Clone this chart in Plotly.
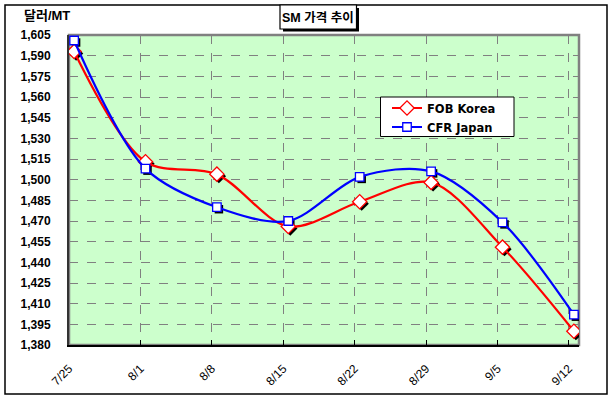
import datetime as _dt
import plotly.graph_objects as go

# ---- data ----
dates = ["2011-07-25", "2011-08-01", "2011-08-08", "2011-08-15",
         "2011-08-22", "2011-08-29", "2011-09-05", "2011-09-12"]
fob_korea = [1593, 1513, 1504, 1466, 1484, 1498, 1451, 1390]
cfr_japan = [1601, 1508, 1480, 1470, 1502, 1506, 1469, 1402]
series_names = ["FOB Korea", "CFR Japan"]
y_ticks = list(range(1380, 1606, 15))

# ---- layout constants ----
W, H = 613, 399
ML, MR, MT, MB = 69, 34, 35, 54
PW, PH = W - ML - MR, H - MT - MB
DAY = 86400000
X_RANGE = ["2011-07-25", "2011-09-13"]
Y_RANGE = [1380, 1605]
SHX = 2 / (PW / 50.0)        # shadow offset in days (~2px)
SHY = 2 / (PH / 225.0)       # shadow offset in value units (~2px)
_x0 = _dt.datetime(2011, 7, 25).timestamp() * 1000
_x1 = _dt.datetime(2011, 9, 13).timestamp() * 1000


def pxx(p):
    return (p - ML) / PW


def pxy(p):
    return 1 - (p - MT) / PH


FONT = "Liberation Sans, Arial, Noto Sans CJK KR, sans-serif"

fig = go.Figure()

# invisible trace to anchor the base axes (grid/ticks)
fig.add_trace(go.Scatter(x=dates, y=fob_korea, mode="markers", xaxis="x", yaxis="y",
                         marker=dict(opacity=0), showlegend=False, hoverinfo="skip"))

common = dict(xperiod=DAY, xperiodalignment="middle", showlegend=False, hoverinfo="skip")

# marker shadows (on shifted axes x2/y2)
fig.add_trace(go.Scatter(x=dates, y=fob_korea, mode="markers", xaxis="x2", yaxis="y2",
                         marker=dict(symbol="diamond", size=11, color="black"), **common))
fig.add_trace(go.Scatter(x=dates, y=cfr_japan, mode="markers", xaxis="x2", yaxis="y2",
                         marker=dict(symbol="square", size=8.5, color="black"), **common))

# main series (on x3/y3, same range as x/y)
fig.add_trace(go.Scatter(x=dates, y=fob_korea, name=series_names[0], mode="lines+markers",
                         xaxis="x3", yaxis="y3", xperiod=DAY, xperiodalignment="middle",
                         line=dict(color="#FF0000", width=2.2, shape="spline", smoothing=0.9),
                         marker=dict(symbol="diamond", size=11, color="white",
                                     line=dict(color="#FF0000", width=1.3))))
fig.add_trace(go.Scatter(x=dates, y=cfr_japan, name=series_names[1], mode="lines+markers",
                         xaxis="x3", yaxis="y3", xperiod=DAY, xperiodalignment="middle",
                         line=dict(color="#0000FF", width=2.2, shape="spline", smoothing=0.9),
                         marker=dict(symbol="square", size=8.5, color="white",
                                     line=dict(color="#0000FF", width=1.3))))

grid = dict(showgrid=True, gridcolor="#808080", griddash="dash", gridwidth=1)

shapes = [
    dict(type="rect", xref="paper", yref="paper", x0=pxx(5), x1=pxx(607),
         y0=pxy(394), y1=pxy(5), line=dict(color="black", width=1.5), layer="below"),
    dict(type="rect", xref="paper", yref="paper", x0=0, x1=1, y0=0, y1=1,
         line=dict(color="#808080", width=2.5), layer="below"),
    # title box shadow + box
    dict(type="rect", xref="paper", yref="paper", x0=pxx(283), x1=pxx(359),
         y0=pxy(31.5), y1=pxy(8), fillcolor="black", line=dict(width=0)),
    dict(type="rect", xref="paper", yref="paper", x0=pxx(280), x1=pxx(356.5),
         y0=pxy(29), y1=pxy(5), fillcolor="white", line=dict(color="black", width=1.2)),
    # legend box
    dict(type="rect", xref="paper", yref="paper", x0=pxx(380.5), x1=pxx(514),
         y0=pxy(136.5), y1=pxy(97), fillcolor="white", line=dict(color="black", width=1)),
]

annotations = [
    dict(text="<b>SM 가격 추이</b>", xref="paper", yref="paper", x=pxx(318), y=pxy(17.5),
         showarrow=False, font=dict(family=FONT, size=12.5, color="black"),
         xanchor="center", yanchor="middle"),
    dict(text="<b>달러/MT</b>", xref="paper", yref="paper", x=pxx(22), y=pxy(15.5),
         showarrow=False, font=dict(family=FONT, size=13, color="black"),
         xanchor="left", yanchor="middle"),
]

fig.update_layout(
    width=W, height=H,
    margin=dict(l=ML, r=MR, t=MT, b=MB, pad=0, autoexpand=False),
    paper_bgcolor="white",
    plot_bgcolor="#CCFFCC",
    font=dict(family=FONT, size=12, color="black"),
    xaxis=dict(type="date", range=X_RANGE, tick0=X_RANGE[0], dtick=7 * DAY,
               tickformat="%-m/%-d", tickangle=-45,
               tickfont=dict(family=FONT, size=12, color="black"),
               ticks="inside", ticklen=5, tickcolor="black", tickwidth=1,
               showline=True, linecolor="black", linewidth=2, automargin=False,
               ticklabelstandoff=10, zeroline=False, fixedrange=True, **grid),
    yaxis=dict(range=Y_RANGE, tickvals=y_ticks, tickformat=",d",
               tickfont=dict(family=FONT, size=12, color="black", weight="bold"),
               ticks="", showline=True, linecolor="#333333", linewidth=2, automargin=False,
               ticklabelstandoff=14, zeroline=False, fixedrange=True, **grid),
    xaxis2=dict(type="date", overlaying="x", range=[_x0 - SHX * DAY, _x1 - SHX * DAY],
                visible=False, automargin=False),
    yaxis2=dict(overlaying="y", range=[Y_RANGE[0] + SHY, Y_RANGE[1] + SHY],
                visible=False, automargin=False),
    xaxis3=dict(type="date", overlaying="x", range=X_RANGE, visible=False, automargin=False),
    yaxis3=dict(overlaying="y", range=Y_RANGE, visible=False, automargin=False),
    legend=dict(x=pxx(387), y=pxy(93.5), xanchor="left", yanchor="top",
                bgcolor="rgba(0,0,0,0)", borderwidth=0,
                font=dict(family="DejaVu Sans", size=11.5, color="black", weight="bold"),
                itemwidth=30, tracegroupgap=0),
    shapes=shapes,
    annotations=annotations,
)

fig.write_html("out.html", config={"displayModeBar": False},
               post_script="document.body.style.margin='0';")
